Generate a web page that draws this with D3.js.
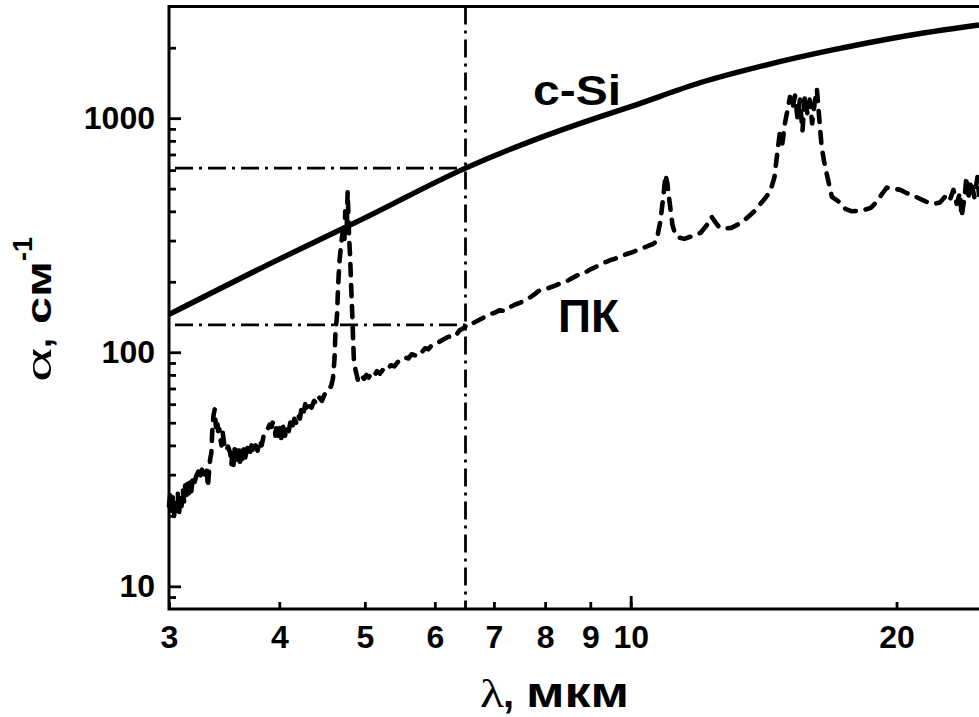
<!DOCTYPE html>
<html><head><meta charset="utf-8">
<script src="https://cdn.jsdelivr.net/npm/d3@7"></script>
<style>body{margin:0;background:#fff}svg{display:block}</style>
</head><body>
<svg id="c" width="979" height="717"></svg>
<script>
// ---------- data ----------
const xTickValues = [3, 4, 5, 6, 7, 8, 9, 10, 20];
const xMajorTicks = [10];
const yMajorTicks = [10, 100, 1000];
const yMinorTicks = [9, 20, 30, 40, 50, 60, 70, 80, 90, 200, 300, 400, 500, 600, 700, 800, 900, 2000];
const xTitle = ["λ", ",", "мкм"];
const yTitle = ["α", ",", "см", "-1"];
const seriesLabels = ["c-Si", "ПК"];

const cSiLambda = [3, 4, 5, 6.5, 8, 9.22, 10, 12, 14.26, 16.93, 20.16, 24.8];
const cSiAlpha  = [145, 250, 375, 612, 840, 1013, 1120, 1420, 1690, 1956, 2223, 2500];

const pkLambda = [
 3.00,3.01,3.02,3.03,3.04,3.05,3.06,3.07,3.08,3.09,3.10,3.11,3.12,3.13,3.14,3.15,3.16,3.17,3.18,3.19,
 3.20,3.22,3.24,3.25,3.27,3.29,3.31,3.32,3.33,3.34,3.35,3.36,3.37,3.38,3.39,3.40,3.41,3.42,3.43,3.44,
 3.45,3.46,3.47,3.48,3.50,3.52,3.53,3.54,3.55,3.56,3.57,3.58,3.59,3.60,3.61,3.62,3.63,3.65,3.66,3.68,
 3.70,3.72,3.74,3.76,3.78,3.80,3.82,3.84,3.86,3.88,3.90,3.92,3.93,3.95,3.96,3.97,3.99,4.00,4.02,4.04,
 4.06,4.08,4.10,4.12,4.14,4.16,4.18,4.20,4.22,4.24,4.26,4.28,4.30,4.32,4.35,4.38,4.41,4.44,4.47,4.50,
 4.53,4.56,4.58,4.60,4.61,4.62,4.63,4.65,4.66,4.67,4.68,4.70,4.72,4.74,4.75,4.77,4.78,4.79,4.80,4.81,
 4.82,4.83,4.84,4.85,4.86,4.88,4.91,4.95,4.99,
 5.02,5.05,5.08,5.12,5.16,5.20,5.25,5.30,5.35,5.40,5.45,5.50,5.55,5.60,5.65,5.70,5.75,5.80,5.85,5.90,
 5.95,6.00,6.05,6.10,6.15,6.20,6.25,6.30,6.35,6.40,6.45,6.50,6.55,6.60,6.70,6.80,6.90,7.00,7.10,7.20,
 7.30,7.40,7.50,7.60,7.70,7.80,7.90,8.00,8.10,8.20,8.30,8.40,8.50,8.60,8.70,8.80,8.90,9.00,9.10,9.20,
 9.30,9.40,9.50,9.60,9.70,9.80,9.90,10.0,10.1,10.2,10.3,10.4,10.5,10.6,10.7,10.75,10.8,10.85,10.9,10.95,
 11.0,11.05,11.1,11.15,11.2,11.3,11.5,11.7,12.0,12.2,12.35,12.5,12.6,12.8,13.0,13.2,13.4,13.6,13.8,14.0,
 14.2,14.4,14.55,14.65,14.75,14.85,14.95,15.05,15.15,15.25,15.35,15.45,15.55,15.65,15.75,15.85,15.95,16.05,16.15,16.25,
 16.35,16.45,16.55,16.7,16.9,17.2,17.5,17.8,18.1,18.4,18.7,19.0,19.3,19.5,19.8,20.2,20.5,20.8,21.2,21.6,
 22.0,22.4,22.8,23.0,23.2,23.4,23.6,23.7,23.9,24.0,24.1,24.3,24.5,24.7,24.8];
const pkAlpha = [
 22,25,21,24,20,23,21,25,20.5,24,22,26,23,27,24,27.5,25,28,25.5,28.5,
 27,29.5,31,29,31.5,30,32,26.5,31,35,37,48,54,57,48,52,46,47,43,40,
 46,42,39,38,39.5,37,33,38,33,38.5,33.5,38,34,38,34,38.5,35,39,35.5,39,
 36.5,40,37,40,38,42,40,44,46,47,49,48,50,49,44,49.5,44,49,43,48,
 44,48,46,51,48,52,50,54,52,58,55,60,56,59,58,62,60,64,62,66,
 67,70,72,77,85,95,120,145,180,215,245,290,330,300,400,350,485,380,300,260,
 210,170,140,110,91,84,76,80,77,
 80,78,81,79,83,81,85,84,88,87,91,92,95,94,98,97,101,100,104,103,
 107,108,110,112,114,116,117,120,119,124,126,129,128,132,136,140,145,147,151,150,
 156,160,163,167,172,178,185,186,189,192,196,199,203,208,213,215,220,226,230,235,
 240,244,248,251,255,259,263,266,270,274,278,282,286,290,298,330,360,414,480,573,
 530,460,400,350,330,310,305,312,324,350,379,355,341,338,340,350,362,380,400,427,
 455,490,562,700,860,780,950,1080,1233,1100,1250,1000,1200,880,1250,1050,1200,950,1150,1330,
 1000,760,660,562,461,440,410,400,402,406,414,440,480,505,500,494,480,470,455,440,
 430,436,471,450,494,430,480,379,470,562,450,540,460,560,470];

const refLambda = 6.5;
const refAlpha = [612, 131];

// ---------- chart ----------
const svg = d3.select("#c");
const x = d3.scaleLog().domain([3, 24.8]).range([169, 979]);
const y = d3.scaleLog().domain([8, 3000]).range([609, 6.5]);
const FONT = "'Liberation Sans', Arial, sans-serif";

// reference dash-dot lines
const ref = svg.append("g").attr("fill", "none").attr("stroke", "#000")
  .attr("stroke-width", 2.8).attr("stroke-dasharray", "18,6,3,6");
refAlpha.forEach(a => {
  ref.append("line").attr("x1", x(3) + 6).attr("x2", x(refLambda))
    .attr("y1", y(a)).attr("y2", y(a));
});
ref.append("line").attr("x1", x(refLambda)).attr("x2", x(refLambda))
  .attr("y1", y(3000)).attr("y2", y(8));

// PK dashed series
const pkData = pkLambda.map((l, i) => [l, pkAlpha[i]]);
const line = d3.line().x(d => x(d[0])).y(d => y(d[1]));
svg.append("path").datum(pkData).attr("d", line)
  .attr("fill", "none").attr("stroke", "#000").attr("stroke-width", 4.6)
  .attr("stroke-linecap", "round").attr("stroke-linejoin", "round")
  .attr("stroke-dasharray", "11,10");

// c-Si solid series
const cData = cSiLambda.map((l, i) => [l, cSiAlpha[i]]);
svg.append("path").datum(cData)
  .attr("d", d3.line().x(d => x(d[0])).y(d => y(d[1])).curve(d3.curveMonotoneX))
  .attr("fill", "none").attr("stroke", "#000").attr("stroke-width", 5.4);

// axes
function styleAxis(g) {
  g.attr("font-family", FONT).attr("font-size", 32).attr("font-weight", "bold");
  g.selectAll("line").attr("stroke", "#000").attr("stroke-width", 2.8);
  g.selectAll("text").attr("fill", "#000");
  g.select(".domain").remove();
}
const xAxis = svg.append("g").attr("transform", `translate(0,${y(8)})`)
  .call(d3.axisBottom(x).tickValues(xTickValues).tickFormat(d3.format("d"))
    .tickSize(-7).tickSizeOuter(0).tickPadding(16));
styleAxis(xAxis);
const xAxisMaj = svg.append("g").attr("transform", `translate(0,${y(8)})`)
  .call(d3.axisBottom(x).tickValues(xMajorTicks).tickFormat("").tickSize(-13).tickSizeOuter(0));
styleAxis(xAxisMaj);

const yAxis = svg.append("g").attr("transform", `translate(${x(3)},0)`)
  .call(d3.axisLeft(y).tickValues(yMajorTicks).tickFormat(d3.format("d"))
    .tickSize(-12).tickSizeOuter(0).tickPadding(14));
styleAxis(yAxis);
const yAxisMin = svg.append("g").attr("transform", `translate(${x(3)},0)`)
  .call(d3.axisLeft(y).tickValues(yMinorTicks).tickFormat("").tickSize(-7).tickSizeOuter(0));
styleAxis(yAxisMin);

// frame lines (top, left, bottom)
const frame = svg.append("g").attr("stroke", "#000").attr("stroke-width", 3).attr("fill", "none");
frame.append("path").attr("d", `M979,${y(3000)}H${x(3)}V${y(8)}H979`);

// series labels
svg.append("text").attr("x", 533).attr("y", 105).text(seriesLabels[0])
  .attr("font-family", FONT).attr("font-weight", "bold").attr("font-size", 43)
  .attr("textLength", 88).attr("lengthAdjust", "spacingAndGlyphs");
svg.append("text").attr("x", 558).attr("y", 332).text(seriesLabels[1])
  .attr("font-family", FONT).attr("font-weight", "bold").attr("font-size", 46);

// x title
svg.append("text").attr("x", 480).attr("y", 707).text(xTitle[0])
  .attr("font-family", "'Liberation Serif', 'DejaVu Serif', serif").attr("font-size", 40)
  .attr("textLength", 24).attr("lengthAdjust", "spacingAndGlyphs");
svg.append("text").attr("x", 503).attr("y", 707).text(xTitle[1])
  .attr("font-family", FONT).attr("font-weight", "bold").attr("font-size", 40);
svg.append("text").attr("x", 526).attr("y", 707).text(xTitle[2])
  .attr("font-family", FONT).attr("font-weight", "bold").attr("font-size", 42)
  .attr("textLength", 103).attr("lengthAdjust", "spacingAndGlyphs");

// y title (rotated)
const yt = svg.append("g").attr("transform", "translate(51,382) rotate(-90)");
yt.append("text").attr("x", 0).attr("y", 0).text(yTitle[0])
  .attr("font-family", "'Liberation Serif', 'DejaVu Serif', serif").attr("font-size", 38)
  .attr("textLength", 34).attr("lengthAdjust", "spacingAndGlyphs");
yt.append("text").attr("x", 34).attr("y", 0).text(yTitle[1])
  .attr("font-family", FONT).attr("font-weight", "bold").attr("font-size", 36);
yt.append("text").attr("x", 58).attr("y", 0).text(yTitle[2])
  .attr("font-family", FONT).attr("font-weight", "bold").attr("font-size", 35)
  .attr("textLength", 63).attr("lengthAdjust", "spacingAndGlyphs");
yt.append("text").attr("x", 121).attr("y", -19).text(yTitle[3])
  .attr("font-family", FONT).attr("font-weight", "bold").attr("font-size", 27);
</script>
</body></html>
